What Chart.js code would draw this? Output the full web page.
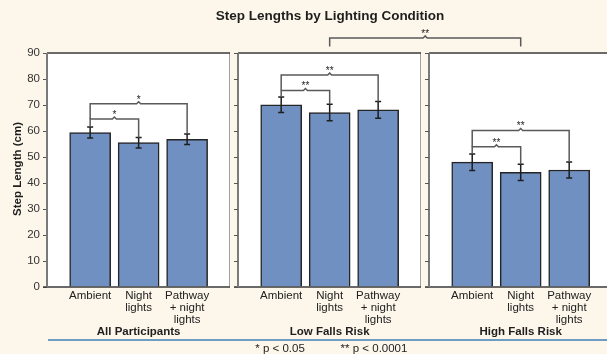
<!DOCTYPE html>
<html>
<head>
<meta charset="utf-8">
<script src="https://cdn.jsdelivr.net/npm/chart.js@4.4.1/dist/chart.umd.min.js"></script>
<style>
  html, body { margin: 0; padding: 0; background: #fdf6ea; }
  #wrap { width: 607px; height: 354px; }
</style>
</head>
<body>
<div id="wrap"><canvas id="stepChart" width="607" height="354"></canvas></div>
<script>
// chart values
const categories = [['Ambient'], ['Night', 'lights'], ['Pathway', '+ night', 'lights']];
const groups = ['All Participants', 'Low Falls Risk', 'High Falls Risk'];
const allMeans = [59.4, 55.5, 56.8];
const lowMeans = [70.1, 67.1, 68.1];
const highMeans = [48.0, 44.1, 45.0];
const allErrors = [2.1, 2.0, 2.0];
const lowErrors = [3.0, 3.2, 3.2];
const highErrors = [3.2, 3.1, 3.1];
const yTicks = [0, 10, 20, 30, 40, 50, 60, 70, 80, 90];
// [group, fromBar, toBar, bracket height, label]
const brackets = [
    [0, 0, 1, 64.6, '*'], [0, 0, 2, 70.5, '*'],
    [1, 0, 1, 75.6, '**'], [1, 0, 2, 81.5, '**'],
    [2, 0, 1, 53.9, '**'], [2, 0, 2, 60.2, '**']
];
// low vs high falls risk
const groupBracket = { from: [1, 1], to: [2, 1], height: 95.8, foot: 92.5, label: '**' };
const footnotes = ['* p < 0.05', '** p < 0.0001'];

const means = [allMeans, lowMeans, highMeans];
const errors = [allErrors, lowErrors, highErrors];

// layout of the three panels on one linear x axis
const STRIDE = 3.94;
const PANEL_LEFT = -0.89, PANEL_RIGHT = 2.89;
const X_MIN = -0.89, X_MAX = 10.66;
const FONT = 'Arial, "Liberation Sans", sans-serif';

const posOf = (g, i) => g * STRIDE + i;
const barData = [];
means.forEach((arr, g) => arr.forEach((v, i) => barData.push({ x: posOf(g, i), y: v })));
const tickPositions = barData.map(d => d.x);

const panelsPlugin = {
    id: 'panels',
    beforeDraw(chart) {
        const { ctx, chartArea, scales: { x } } = chart;
        ctx.save();
        ctx.fillStyle = '#fdf6ea';
        ctx.fillRect(0, 0, chart.width, chart.height);
        ctx.fillStyle = '#ffffff';
        for (let g = 0; g < groups.length; g++) {
            const l = x.getPixelForValue(g * STRIDE + PANEL_LEFT);
            const r = x.getPixelForValue(g * STRIDE + PANEL_RIGHT);
            ctx.fillRect(l, chartArea.top, r - l, chartArea.bottom - chartArea.top);
        }
        ctx.restore();
    },
    afterDatasetsDraw(chart) {
        const { ctx, chartArea, scales: { x, y } } = chart;
        ctx.save();
        // panel frames
        for (let g = 0; g < groups.length; g++) {
            const l = Math.round(x.getPixelForValue(g * STRIDE + PANEL_LEFT));
            const r = Math.round(x.getPixelForValue(g * STRIDE + PANEL_RIGHT));
            const t = chartArea.top, b = chartArea.bottom;
            ctx.lineWidth = 1;
            ctx.strokeStyle = '#a0a0a0';
            ctx.beginPath(); ctx.moveTo(r - 0.5, t); ctx.lineTo(r - 0.5, b); ctx.stroke();
            ctx.lineWidth = 1.5;
            ctx.strokeStyle = '#3a3a3a';
            ctx.beginPath(); ctx.moveTo(l, t); ctx.lineTo(r, t); ctx.stroke();
            ctx.beginPath(); ctx.moveTo(l - 4, b); ctx.lineTo(r, b); ctx.stroke();
            ctx.lineWidth = 2;
            ctx.strokeStyle = '#7a7a7a';
            ctx.beginPath(); ctx.moveTo(l, t); ctx.lineTo(l, b); ctx.stroke();
            if (g > 0) {
                ctx.lineWidth = 1;
                ctx.strokeStyle = '#555';
                yTicks.forEach(v => {
                    const py = Math.round(y.getPixelForValue(v)) + 0.5;
                    ctx.beginPath(); ctx.moveTo(l - 4, py); ctx.lineTo(l, py); ctx.stroke();
                });
            }
        }
        // error bars
        ctx.strokeStyle = '#1e1e1e';
        ctx.lineWidth = 1.5;
        means.forEach((arr, g) => arr.forEach((v, i) => {
            const px = x.getPixelForValue(posOf(g, i));
            const hi = y.getPixelForValue(v + errors[g][i]);
            const lo = y.getPixelForValue(v - errors[g][i]);
            ctx.beginPath();
            ctx.moveTo(px, hi); ctx.lineTo(px, lo);
            ctx.moveTo(px - 3, hi); ctx.lineTo(px + 3, hi);
            ctx.moveTo(px - 3, lo); ctx.lineTo(px + 3, lo);
            ctx.stroke();
        }));
        // significance brackets
        const drawBracket = (x1, x2, yLine, y1, y2, label) => {
            const cx = (x1 + x2) / 2;
            ctx.strokeStyle = '#5a5a5a';
            ctx.lineWidth = 1.5;
            ctx.beginPath();
            ctx.moveTo(x1, y1);
            ctx.lineTo(x1, yLine);
            ctx.lineTo(cx - 2, yLine);
            ctx.lineTo(cx, yLine - 2);
            ctx.lineTo(cx + 2, yLine);
            ctx.lineTo(x2, yLine);
            ctx.lineTo(x2, y2);
            ctx.stroke();
            ctx.fillStyle = '#222';
            ctx.font = '10px ' + FONT;
            ctx.textAlign = 'center';
            ctx.textBaseline = 'alphabetic';
            ctx.fillText(label, cx, yLine - 1);
        };
        brackets.forEach(([g, a, b, h, label]) => {
            // a leg stops at a lower bracket on the same bar, else at the error bar top
            const footAt = (i) => {
                let top = means[g][i] + errors[g][i];
                brackets.forEach(([g2, a2, b2, h2]) => {
                    if (g2 === g && h2 < h && (a2 === i || b2 === i)) top = Math.max(top, h2);
                });
                return y.getPixelForValue(top);
            };
            drawBracket(x.getPixelForValue(posOf(g, a)), x.getPixelForValue(posOf(g, b)),
                y.getPixelForValue(h), footAt(a), footAt(b), label);
        });
        const gb = groupBracket;
        drawBracket(x.getPixelForValue(posOf(gb.from[0], gb.from[1])),
            x.getPixelForValue(posOf(gb.to[0], gb.to[1])),
            y.getPixelForValue(gb.height), y.getPixelForValue(gb.foot),
            y.getPixelForValue(gb.foot), gb.label);
        ctx.restore();
    },
    afterDraw(chart) {
        const { ctx, chartArea, scales: { x } } = chart;
        ctx.save();
        ctx.fillStyle = '#1e1e1e';
        ctx.textAlign = 'center';
        ctx.textBaseline = 'middle';
        ctx.font = 'bold 13.5px ' + FONT;
        ctx.fillText('Step Lengths by Lighting Condition', 330, 16);
        ctx.font = 'bold 11.5px ' + FONT;
        groups.forEach((name, g) => {
            ctx.fillText(name, x.getPixelForValue(posOf(g, 1)), 332);
        });
        ctx.save();
        ctx.translate(18, 169);
        ctx.rotate(-Math.PI / 2);
        ctx.fillText('Step Length (cm)', 0, 0);
        ctx.restore();
        // footer rule and p-value key
        ctx.strokeStyle = '#6f9cc4';
        ctx.lineWidth = 2;
        ctx.beginPath(); ctx.moveTo(48, 340); ctx.lineTo(chart.width, 340); ctx.stroke();
        ctx.font = '11.5px ' + FONT;
        ctx.fillText(footnotes[0], 280, 348.5);
        ctx.fillText(footnotes[1], 374, 348.5);
        ctx.restore();
    }
};

new Chart(document.getElementById('stepChart'), {
    type: 'bar',
    data: {
        datasets: [{
            data: barData,
            backgroundColor: '#7090c2',
            borderColor: '#252525',
            borderWidth: 1.5,
            barThickness: 41
        }]
    },
    options: {
        responsive: false,
        animation: false,
        events: [],
        layout: { padding: { top: 53, right: 0, bottom: 0, left: 0 } },
        plugins: { legend: { display: false }, tooltip: { enabled: false } },
        scales: {
            x: {
                type: 'linear',
                min: X_MIN,
                max: X_MAX,
                offset: false,
                afterBuildTicks: scale => { scale.ticks = tickPositions.map(v => ({ value: v })); },
                afterFit: scale => {
                    scale.height = 67;
                    scale.paddingLeft = 0;
                    scale.paddingRight = 0;
                },
                grid: { display: false, drawTicks: false, offset: false },
                border: { display: false },
                ticks: {
                    autoSkip: false,
                    maxRotation: 0,
                    padding: 3,
                    color: '#222',
                    font: { family: FONT, size: 11.5, lineHeight: 1.03 },
                    callback: (value, index) => categories[index % categories.length]
                }
            },
            y: {
                min: 0,
                max: 90,
                afterBuildTicks: scale => { scale.ticks = yTicks.map(v => ({ value: v })); },
                afterFit: scale => {
                    scale.width = 47;
                    scale.paddingTop = 0;
                    scale.paddingBottom = 0;
                },
                grid: { display: true, drawOnChartArea: false, drawTicks: true, tickLength: 4, color: '#555' },
                border: { display: false },
                ticks: {
                    padding: 3,
                    color: '#333',
                    font: { family: FONT, size: 11.5 }
                }
            }
        }
    },
    plugins: [panelsPlugin]
});
</script>
</body>
</html>
